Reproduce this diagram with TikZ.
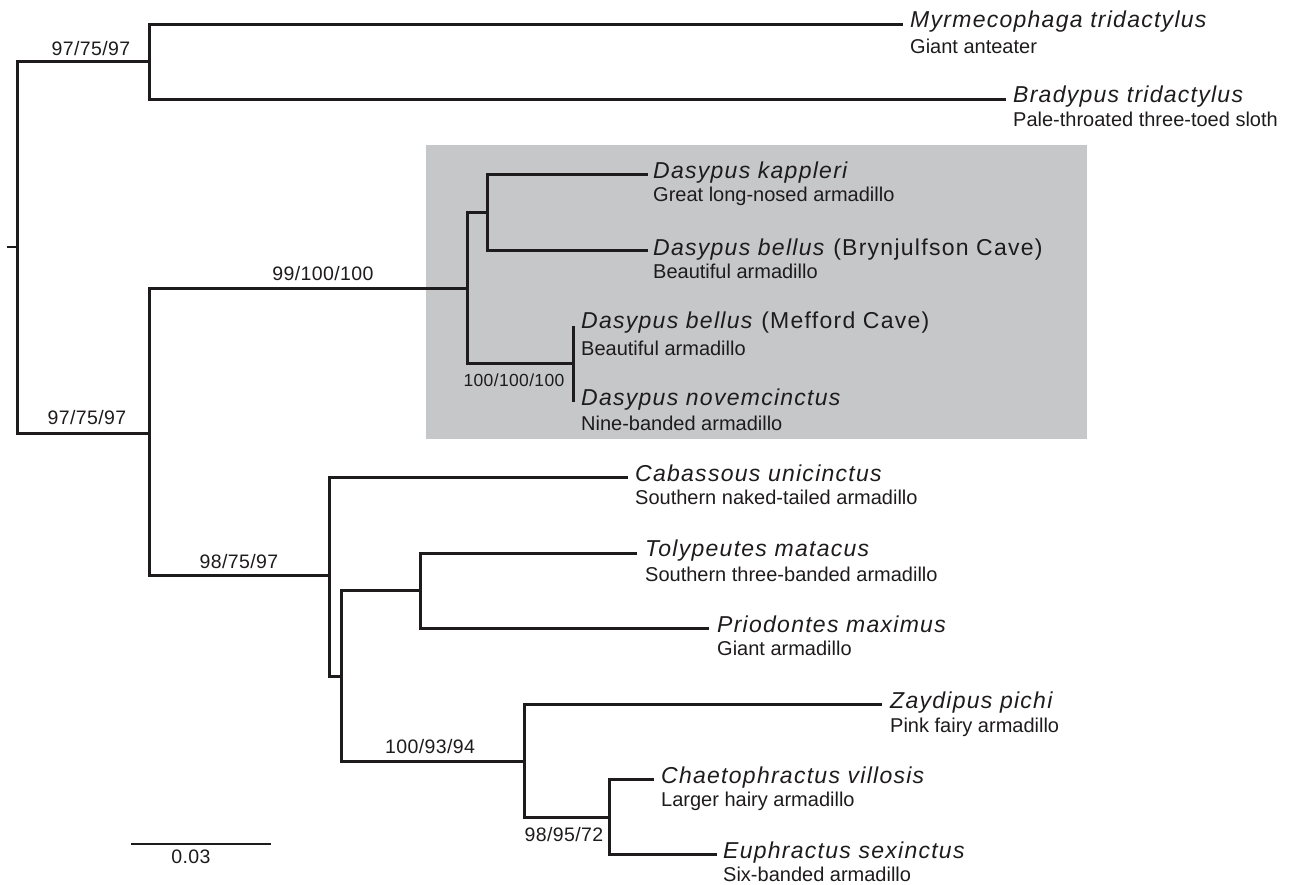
\documentclass[tikz,border=0pt]{standalone}
\usepackage{fontspec}
\setmainfont{Liberation Sans}
\newfontfamily\spfont[LetterSpace=5.5]{Liberation Sans}
\newfontfamily\nmfont[LetterSpace=2]{Liberation Sans}
\definecolor{boxgray}{RGB}{198,199,201}
\definecolor{ink}{RGB}{30,27,28}
\begin{document}
\begin{tikzpicture}[x=1pt,y=-1pt,
  branch/.style={draw=ink,line width=3pt,line join=miter},
  thin/.style={draw=ink,line width=1.8pt},
  sp/.style={inner sep=0pt,anchor=base west,text=ink,font=\spfont\itshape\fontsize{23}{25}\selectfont},
  cn/.style={inner sep=0pt,anchor=base west,text=ink,font=\fontsize{20}{22}\selectfont},
  sup/.style={inner sep=0pt,anchor=base,text=ink,font=\nmfont\fontsize{19.5}{22}\selectfont},
  supsm/.style={inner sep=0pt,anchor=base,text=ink,font=\nmfont\fontsize{17.5}{20}\selectfont}]
\useasboundingbox (0,0) rectangle (1295,884);
% grey box
\fill[boxgray] (426,145) rectangle (1087,439);

% internal nodes
\coordinate (stub) at (7,247);
\coordinate (root) at (17,247);
\coordinate (n1) at (149,61);
\coordinate (n2) at (149,433);
\coordinate (n3) at (467,288);
\coordinate (n4) at (487,212);
\coordinate (n5) at (573,363);
\coordinate (n6) at (329,575);
\coordinate (n7) at (341,676);
\coordinate (n8) at (420,590);
\coordinate (n9) at (524,761);
\coordinate (n10) at (609,817);

% tips
\coordinate (tMyrm) at (903,24);
\coordinate (tBrady) at (1006,99);
\coordinate (tKapp) at (648,174);
\coordinate (tBellB) at (648,250);
\coordinate (tBellM) at (573,326);
\coordinate (tNovem) at (573,402);
\coordinate (tCaba) at (628,477);
\coordinate (tToly) at (637,553);
\coordinate (tPrio) at (709,628);
\coordinate (tZayd) at (882,704);
\coordinate (tChae) at (654,779);
\coordinate (tEuph) at (717,854);

% branches
\draw[thin] (stub) -- (root);
\draw[branch] (root) |- (n1);
\draw[branch] (root) |- (n2);
\draw[branch] (n1) |- (tMyrm);
\draw[branch] (n1) |- (tBrady);
\draw[branch] (n2) |- (n3);
\draw[branch] (n2) |- (n6);
\draw[branch] (n3) |- (n4);
\draw[branch] (n3) |- (n5);
\draw[branch] (n4) |- (tKapp);
\draw[branch] (n4) |- (tBellB);
\draw[branch] (n5) -- (tBellM);
\draw[branch] (n5) -- (tNovem);
\draw[branch] (n6) |- (tCaba);
\draw[branch] (n6) |- (n7);
\draw[branch] (n7) |- (n8);
\draw[branch] (n7) |- (n9);
\draw[branch] (n8) |- (tToly);
\draw[branch] (n8) |- (tPrio);
\draw[branch] (n9) |- (tZayd);
\draw[branch] (n9) |- (n10);
\draw[branch] (n10) |- (tChae);
\draw[branch] (n10) |- (tEuph);

% support values
\node[sup] (l1) at (91,55) {97/75/97};
\node[sup] (l2) at (87,424) {97/75/97};
\node[sup] (l3) at (323,280) {99/100/100};
\node[supsm] (l4) at (514,386) {100/100/100};
\node[sup] (l5) at (239,568) {98/75/97};
\node[sup] (l6) at (430,753) {100/93/94};
\node[sup] (l7) at (564,841) {98/95/72};

% scale bar
\coordinate (sbL) at (131,844);
\coordinate (sbR) at (271,844);
\draw[thin] (sbL) -- (sbR);
\node[sup] (sbt) at (191,863) {0.03};

% leaf labels
\node[sp] (sMyrm) at (910,27) {Myrmecophaga tridactylus};
\node[cn] (cMyrm) at (910,53) {Giant anteater};
\node[sp] (sBrady) at (1013,102) {Bradypus tridactylus};
\node[cn] (cBrady) at (1013,126) {Pale-throated three-toed sloth};
\node[sp] (sKapp) at (653,178) {Dasypus kappleri};
\node[cn] (cKapp) at (653,201) {Great long-nosed armadillo};
\node[sp] (sBellB) at (653,255) {Dasypus bellus\/ {\upshape (Brynjulfson Cave)}};
\node[cn] (cBellB) at (653,278) {Beautiful armadillo};
\node[sp] (sBellM) at (581,328) {Dasypus bellus\/ {\upshape (Mefford Cave)}};
\node[cn] (cBellM) at (581,355) {Beautiful armadillo};
\node[sp] (sNovem) at (581,405) {Dasypus novemcinctus};
\node[cn] (cNovem) at (581,430) {Nine-banded armadillo};
\node[sp] (sCaba) at (635,481) {Cabassous unicinctus};
\node[cn] (cCaba) at (635,504) {Southern naked-tailed armadillo};
\node[sp] (sToly) at (645,556) {Tolypeutes matacus};
\node[cn] (cToly) at (645,581) {Southern three-banded armadillo};
\node[sp] (sPrio) at (717,632) {Priodontes maximus};
\node[cn] (cPrio) at (717,655) {Giant armadillo};
\node[sp] (sZayd) at (890,708) {Zaydipus pichi};
\node[cn] (cZayd) at (890,732) {Pink fairy armadillo};
\node[sp] (sChae) at (661,783) {Chaetophractus villosis};
\node[cn] (cChae) at (661,806) {Larger hairy armadillo};
\node[sp] (sEuph) at (723,858) {Euphractus sexinctus};
\node[cn] (cEuph) at (723,881) {Six-banded armadillo};
\end{tikzpicture}
\end{document}
